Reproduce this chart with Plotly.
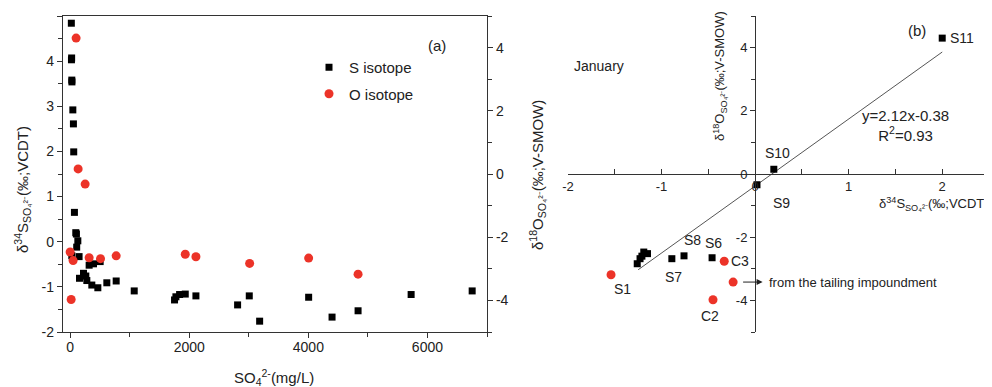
import plotly.graph_objects as go

# page body has an 8 px margin: lay out in reference pixel coordinates, shifted by it
OX, OY = 8, 8
W, H = 992 - OX, 387 - OY


def px(x):
    return (x - OX) / W


def py(y):
    return 1 - (y - OY) / H


# ---------------- Panel (a) data ----------------
s_conc = [20, 22, 25, 28, 30, 45, 55, 60, 72, 95, 105, 129, 110, 28, 150,
          157, 224, 263, 280, 319, 392, 504, 364, 465, 616, 773, 1076,
          1753, 1776, 1838, 1933, 2112, 2812, 3008, 3182, 4005, 4398, 4835, 5726, 6751]
s_delta34 = [4.84, 4.03, 4.07, 3.58, 3.54, 2.92, 2.61, 1.99, 0.65, 0.20, 0.17, 0.02, -0.12, -0.31, -0.33,
             -0.81, -0.70, -0.76, -0.86, -0.52, -0.49, -0.44, -0.96, -1.02, -0.91, -0.87, -1.09,
             -1.29, -1.22, -1.17, -1.16, -1.20, -1.40, -1.20, -1.76, -1.23, -1.67, -1.53, -1.17, -1.09]

o_conc = [100, 134, 252, 0, 50, 17, 319, 510, 773, 1933, 2112, 3014, 4005, 4835]
o_delta18 = [4.30, 0.16, -0.32, -2.47, -2.74, -3.97, -2.65, -2.68, -2.59, -2.54, -2.62, -2.83, -2.66, -3.17]

a_x_ticks = [0, 2000, 4000, 6000]
a_x_ticktext = ["0", "2000", "4000", "6000"]
a_yl_ticks = [-2, -1, 0, 1, 2, 3, 4, 5]
a_yl_ticktext = ["-2", "-1", "0", "1", "2", "3", "4", "5"]
a_yr_ticks = [-4, -2, 0, 2, 4]
a_yr_ticktext = ["-4", "-2", "0", "2", "4"]

# ---------------- Panel (b) data ----------------
b_s_x = [2.00, 0.20, 0.02, -1.19, -1.15, -1.21, -1.23, -1.26, -0.89, -0.76, -0.46]
b_s_y = [4.30, 0.15, -0.34, -2.47, -2.52, -2.60, -2.68, -2.84, -2.68, -2.59, -2.65]
b_o_x = [-1.54, -0.45, -0.33, -0.235]
b_o_y = [-3.19, -3.98, -2.76, -3.42]
fit_slope, fit_intercept = 2.12, -0.38
fit_x = [-1.25, 2.0]
fit_y = [fit_slope * v + fit_intercept for v in fit_x]

b_x_ticks = [-2, -1, 0, 1, 2]
b_x_ticktext = ["-2", "-1", "0", "1", "2"]
b_y_ticks = [-4, -2, 0, 2, 4]
b_y_ticktext = ["-4", "-2", "0", "2", "4"]

# site labels: (text, x, y, xanchor, yanchor, dx px, dy px)
site_labels = [
    ("S11", 2.00, 4.30, "left", "middle", 6, 0),
    ("S10", 0.20, 0.15, "center", "bottom", 4, -6),
    ("S9", 0.02, -0.34, "left", "top", 14, 8),
    ("S7", -0.89, -2.68, "center", "top", 2, 8),
    ("S8", -0.76, -2.59, "center", "bottom", 8, -6),
    ("S6", -0.46, -2.65, "center", "bottom", 1, -5),
    ("C3", -0.33, -2.76, "left", "middle", 5, 0),
    ("C2", -0.45, -3.98, "center", "top", -3, 6),
    ("S1", -1.54, -3.19, "left", "top", 1, 4),
]

BLACK = "#000000"
RED = "#ec3328"
FONT = "Liberation Sans, Arial, sans-serif"
TXT = "#222222"

# domains (paper fractions)
ax_dom = [px(63), px(487)]
bx_dom = [px(568), px(989)]
y_dom = [py(332), py(16)]
bx_range = [-2, 2.5]
by_range = [-5, 5]

fig = go.Figure()

fig.add_trace(go.Scatter(x=s_conc, y=s_delta34, mode="markers", name="S isotope",
                         marker=dict(symbol="square", size=7, color=BLACK),
                         xaxis="x", yaxis="y", legendgroup="s"))
fig.add_trace(go.Scatter(x=o_conc, y=o_delta18, mode="markers", name="O isotope",
                         marker=dict(symbol="circle", size=9, color=RED),
                         xaxis="x", yaxis="y2", legendgroup="o"))

fig.add_trace(go.Scatter(x=fit_x, y=fit_y, mode="lines", showlegend=False,
                         line=dict(color="#555555", width=1), xaxis="x2", yaxis="y3"))
fig.add_trace(go.Scatter(x=b_s_x, y=b_s_y, mode="markers", showlegend=False,
                         marker=dict(symbol="square", size=7, color=BLACK),
                         xaxis="x2", yaxis="y3"))
fig.add_trace(go.Scatter(x=b_o_x, y=b_o_y, mode="markers", showlegend=False,
                         marker=dict(symbol="circle", size=9, color=RED),
                         xaxis="x2", yaxis="y3"))

axis_common = dict(showgrid=False, zeroline=False, showline=True, linecolor="#333333",
                   linewidth=1.3, tickcolor="#333333", ticklen=5, tickwidth=1.3,
                   automargin=False)
font_a = dict(family=FONT, size=14, color=TXT)
font_b = dict(family=FONT, size=13, color=TXT)

fig.update_layout(
    width=W, height=H,
    margin=dict(l=0, r=0, t=0, b=0, autoexpand=False),
    paper_bgcolor="white", plot_bgcolor="white",
    font=dict(family=FONT, color=TXT),
    showlegend=True,
    legend=dict(x=px(309), y=py(51), xanchor="left", yanchor="top",
                bgcolor="rgba(0,0,0,0)", font=dict(family=FONT, size=15, color=TXT),
                tracegroupgap=4),
    xaxis=dict(domain=ax_dom, range=[-120, 7000], anchor="y", ticks="outside",
               tickvals=a_x_ticks, ticktext=a_x_ticktext, mirror=True, tickfont=font_a,
               ticklabelstandoff=-3,
               minor=dict(ticks="outside", dtick=1000, tick0=0, ticklen=4, tickcolor="#333333"),
               **axis_common),
    yaxis=dict(domain=y_dom, range=[-2, 5], anchor="x", ticks="outside",
               tickvals=a_yl_ticks, ticktext=a_yl_ticktext, tickfont=font_a,
               minor=dict(ticks="outside", dtick=0.5, ticklen=4, tickcolor="#333333"),
               **axis_common),
    yaxis2=dict(domain=y_dom, range=[-5, 5], anchor="x", overlaying="y", side="right",
                ticks="outside", tickvals=a_yr_ticks, ticktext=a_yr_ticktext, tickfont=font_a,
                minor=dict(ticks="outside", dtick=1, ticklen=4, tickcolor="#333333"),
                **axis_common),
    xaxis2=dict(domain=bx_dom, range=bx_range, anchor="free",
                position=(y_dom[0] + y_dom[1]) / 2, ticks="inside",
                tickvals=b_x_ticks, ticktext=b_x_ticktext, tickfont=font_b,
                minor=dict(ticks="inside", dtick=0.5, ticklen=5, tickcolor="#333333"),
                **axis_common),
    yaxis3=dict(domain=y_dom, range=by_range, anchor="free",
                position=bx_dom[0] + (0 - bx_range[0]) / (bx_range[1] - bx_range[0]) * (bx_dom[1] - bx_dom[0]),
                ticks="outside", tickvals=b_y_ticks, ticktext=b_y_ticktext, tickfont=font_b,
                minor=dict(ticks="outside", dtick=1, ticklen=4, tickcolor="#333333"),
                **axis_common),
)


def label(text, x, y, size, angle=0, xanchor="center", yanchor="middle"):
    return dict(text=text, xref="paper", yref="paper", x=px(x), y=py(y),
                xanchor=xanchor, yanchor=yanchor, textangle=angle, showarrow=False,
                font=dict(family=FONT, size=size, color=TXT))


ann = []
# panel a titles
ann.append(label("SO<sub>4</sub><sup>2-</sup>(mg/L)", 274, 377, 15))
ann.append(label("δ<sup>34</sup>S<sub>SO₄²⁻</sub>(‰;VCDT)", 22, 190, 15, angle=-90))
ann.append(label("δ<sup>18</sup>O<sub>SO₄²⁻</sub>(‰;V-SMOW)", 537, 175, 15, angle=-90))
ann.append(label("(a)", 437, 46, 15))
# panel b texts
ann.append(label("January", 572, 66, 14, xanchor="left"))
ann.append(label("(b)", 917, 30, 15))
ann.append(label("δ<sup>18</sup>O<sub>SO₄²⁻</sub>(‰;V-SMOW)", 720, 76, 13, angle=-90))
ann.append(label("δ<sup>34</sup>S<sub>SO₄²⁻</sub>(‰;VCDT)", 991, 204, 13, xanchor="right"))
ann.append(label(f"y={fit_slope}x{fit_intercept}<br>R<sup>2</sup>=0.93", 905, 126, 15))
for t, x, y, xa, ya, dx, dy in site_labels:
    ann.append(dict(text=t, x=x, y=y, xref="x2", yref="y3", xanchor=xa, yanchor=ya,
                    xshift=dx, yshift=-dy, showarrow=False,
                    font=dict(family=FONT, size=14, color=TXT)))
# arrow from tailing impoundment point
ann.append(dict(text="", x=0.08, y=b_o_y[3], xref="x2", yref="y3", ax=-21, ay=0,
                showarrow=True, arrowhead=2, arrowsize=1.2, arrowwidth=1, arrowcolor=TXT))
ann.append(dict(text="from the tailing impoundment", x=0.13, y=b_o_y[3], xref="x2", yref="y3",
                xanchor="left", yanchor="middle", showarrow=False,
                font=dict(family=FONT, size=13, color=TXT)))

fig.update_layout(annotations=ann)
fig.write_html("out.html")
